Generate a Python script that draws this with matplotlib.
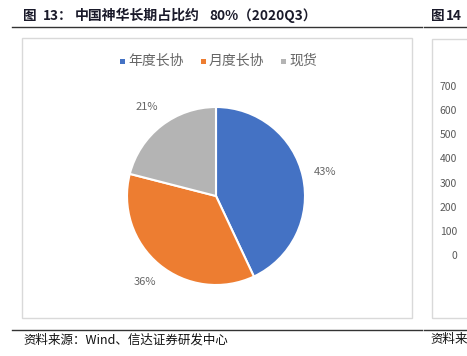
import matplotlib
matplotlib.use("Agg")
import matplotlib.pyplot as plt
from matplotlib.patches import Rectangle
from matplotlib.lines import Line2D

plt.rcParams['font.family'] = ['Noto Sans CJK SC', 'DejaVu Sans']

# ---- data ----
categories = ['年度长协', '月度长协', '现货']
shares = [43, 36, 21]
colors = ['#4472C4', '#ED7D31', '#B4B4B4']
title_parts = ['图', '13：', '中国神华长期占比约', '80%（2020Q3）']
title_x = [23, 43, 75, 209]
title_sizes = [9.8, 9.8, 10.0, 9.8]
source = '资料来源：Wind、信达证券研发中心'
next_title_parts = ['图', '14']
next_title_x = [431, 446]
next_ticks = [0, 100, 200, 300, 400, 500, 600, 700]
next_source = '资料来'

W, H = 467, 356
fig = plt.figure(figsize=(W / 100, H / 100), dpi=100)

def fx(px):
    return px / W

def fy(py):  # py measured from top
    return 1 - py / H

# header / footer lines
for y in (27, 330):
    fig.add_artist(Line2D([fx(12), fx(422)], [fy(y), fy(y)], color='#333333', lw=1.0))
    fig.add_artist(Line2D([fx(424), fx(467)], [fy(y), fy(y)], color='#333333', lw=1.0))

for x, t, s in zip(title_x, title_parts, title_sizes):
    fig.text(fx(x), fy(16), t, fontsize=s, fontweight='bold', color='#1a1a2a',
             va='center', ha='left')
for x, t in zip(next_title_x, next_title_parts):
    fig.text(fx(x), fy(16), t, fontsize=9.8, fontweight='bold', color='#1a1a2a',
             va='center', ha='left')
fig.text(fx(23), fy(340), source, fontsize=9, style='italic', color='#111111',
         va='center', ha='left')
fig.text(fx(430), fy(340), next_source, fontsize=9, style='italic', color='#111111',
         va='center', ha='left')

# chart boxes
fig.add_artist(Rectangle((fx(21.5), fy(318)), fx(412 - 21.5), fy(38) - fy(318),
                         fill=False, edgecolor='#D9D9D9', lw=1.0))
fig.add_artist(Rectangle((fx(432), fy(318)), fx(60), fy(39) - fy(318),
                         fill=False, edgecolor='#D9D9D9', lw=1.0))

# pie
cx, cy, R = 216, 196, 89
lim = 1.4
S = 2 * lim * R
ax = fig.add_axes([fx(cx - S / 2), fy(cy + S / 2), S / W, S / H])
ax.pie(shares, colors=colors, startangle=90, counterclock=False,
       autopct='%d%%', pctdistance=1.26,
       wedgeprops=dict(edgecolor='white', linewidth=1.5),
       textprops=dict(color='#666666', fontsize=8))
ax.set_xlim(-lim, lim)
ax.set_ylim(-lim, lim)
ax.set_aspect('equal')
ax.axis('off')

# legend (manual)
leg_x = [122, 203, 283]
leg_y = 61
for x, c, lab in zip(leg_x, colors, categories):
    fig.add_artist(Rectangle((fx(x - 2.5), fy(leg_y + 2.5)), fx(5), fy(leg_y - 2.5) - fy(leg_y + 2.5),
                             facecolor=c, edgecolor='none'))
    fig.text(fx(x + 6), fy(leg_y), lab, fontsize=10, color='#666666', va='center', ha='left')

# partial next chart axis
ax2 = fig.add_axes([fx(462), fy(255), fx(4), fy(86) - fy(255)])
ax2.set_ylim(0, 700)
ax2.set_yticks(next_ticks)
ax2.set_yticklabels([str(t) for t in next_ticks], fontsize=7.5, color='#595959')
ax2.tick_params(axis='y', length=0, pad=3.5)
ax2.set_xticks([])
for s in ax2.spines.values():
    s.set_visible(False)
ax2.patch.set_alpha(0)

fig.savefig('out.png', dpi=100)
